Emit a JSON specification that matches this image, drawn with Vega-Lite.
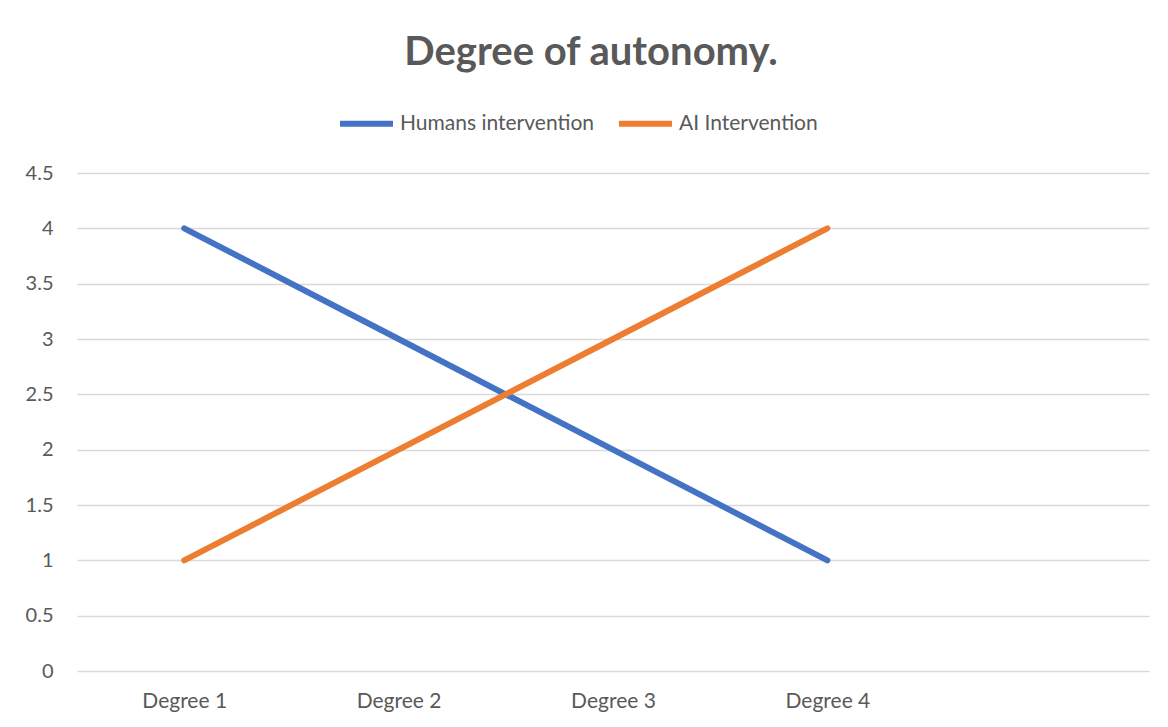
{
  "$schema": "https://vega.github.io/schema/vega-lite/v6.json",
  "autosize": "none",
  "width": 1072,
  "height": 498,
  "padding": {"left": 77, "top": 173, "right": 19, "bottom": 56},
  "background": "white",
  "config": {"view": {"stroke": null}, "font": "Lato"},
  "title": {
    "text": "Degree of autonomy.",
    "anchor": "middle",
    "frame": "group",
    "dx": -22,
    "offset": -11,
    "fontSize": 40,
    "font": "Lato",
    "fontWeight": "bold",
    "color": "#595959",
    "baseline": "alphabetic"
  },
  "data": {
    "values": [
      {"degree": "Degree 1", "series": "Humans intervention", "value": 4},
      {"degree": "Degree 2", "series": "Humans intervention", "value": 3},
      {"degree": "Degree 3", "series": "Humans intervention", "value": 2},
      {"degree": "Degree 4", "series": "Humans intervention", "value": 1},
      {"degree": "Degree 1", "series": "AI Intervention", "value": 1},
      {"degree": "Degree 2", "series": "AI Intervention", "value": 2},
      {"degree": "Degree 3", "series": "AI Intervention", "value": 3},
      {"degree": "Degree 4", "series": "AI Intervention", "value": 4}
    ]
  },
  "mark": {"type": "line", "strokeWidth": 6, "strokeCap": "round", "strokeJoin": "round"},
  "encoding": {
    "x": {
      "field": "degree",
      "type": "ordinal",
      "scale": {"type": "point", "domain": ["Degree 1", "Degree 2", "Degree 3", "Degree 4", " "], "padding": 0.5},
      "axis": {
        "title": null,
        "labelAngle": 0,
        "labelFontSize": 21,
        "labelFont": "Lato",
        "labelColor": "#595959",
        "labelPadding": 19,
        "ticks": false,
        "domain": false,
        "grid": false
      }
    },
    "y": {
      "field": "value",
      "type": "quantitative",
      "scale": {"domain": [0, 4.5], "nice": false},
      "axis": {
        "title": null,
        "values": [0, 0.5, 1, 1.5, 2, 2.5, 3, 3.5, 4, 4.5],
        "format": "~g",
        "labelFontSize": 20,
        "labelFont": "Lato",
        "labelColor": "#595959",
        "labelPadding": 24,
        "ticks": false,
        "domain": false,
        "grid": true,
        "gridColor": "#d9d9d9",
        "gridWidth": 1.5
      }
    },
    "color": {
      "field": "series",
      "type": "nominal",
      "scale": {"domain": ["Humans intervention", "AI Intervention"], "range": ["#4472C4", "#ED7D31"]},
      "legend": {
        "title": null,
        "orient": "none",
        "direction": "horizontal",
        "legendX": 260,
        "legendY": -79,
        "symbolType": "stroke",
        "symbolSize": 2809,
        "symbolStrokeWidth": 6,
        "labelFontSize": 21,
        "labelFont": "Lato",
        "labelColor": "#595959",
        "labelLimit": 400,
        "labelOffset": 4,
        "columnPadding": 12
      }
    }
  }
}
